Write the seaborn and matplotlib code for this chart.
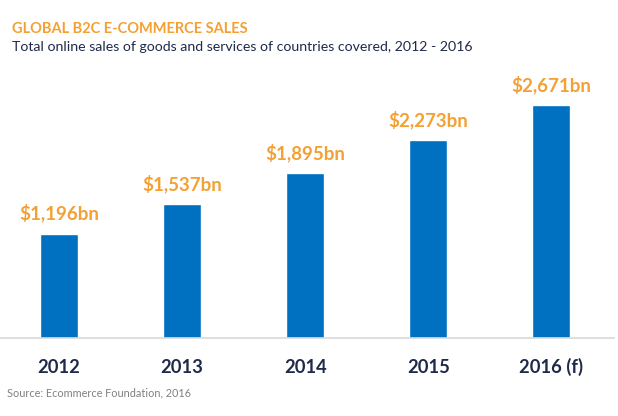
import matplotlib
matplotlib.use("Agg")
import matplotlib.pyplot as plt
import seaborn as sns
import pandas as pd

# data
years = ["2012", "2013", "2014", "2015", "2016 (f)"]
sales_bn = [1196, 1537, 1895, 2273, 2671]
value_labels = ["$1,196bn", "$1,537bn", "$1,895bn", "$2,273bn", "$2,671bn"]

bar_blue = "#0070C0"
orange = "#F4A032"
navy = "#1F2A4A"

sns.set_theme(style="white")
plt.rcParams["font.family"] = ["Lato", "DejaVu Sans"]

df = pd.DataFrame({"year": years, "sales": sales_bn})

fig = plt.figure(figsize=(6.18, 4.16), dpi=100)
# axes: x from 0 to 614 px, baseline at 338 px from top
ax = fig.add_axes([0, (416 - 338) / 416, 614 / 618, (338 - 60) / 416])

sns.barplot(data=df, x="year", y="sales", color=bar_blue, width=0.31,
            saturation=1, ax=ax)

ax.set_xlim(-0.48, 4.51)
ax.set_ylim(0, 278 * 11.47)

for i, (v, lab) in enumerate(zip(sales_bn, value_labels)):
    ax.annotate(lab, (i, v), xytext=(0, 14), textcoords="offset pixels",
                ha="center", va="baseline", color=orange,
                fontsize=13.5, fontweight="bold")

for s in ["top", "right", "left"]:
    ax.spines[s].set_visible(False)
ax.spines["bottom"].set_color("#D9D9D9")
ax.spines["bottom"].set_linewidth(1.2)
ax.set_yticks([])
ax.set_xlabel("")
ax.set_ylabel("")
# baseline of year labels ~35 px under the axis line
ax.tick_params(axis="x", length=0, pad=25)
for t in ax.get_xticklabels():
    t.set_fontsize(13.2)
    t.set_fontweight("bold")
    t.set_color(navy)
    t.set_va("baseline")

fig.text(12 / 618, 1 - 33 / 416, "GLOBAL B2C E-COMMERCE SALES", color=orange,
         fontsize=10.5, fontweight="bold", va="baseline")
fig.text(12 / 618, 1 - 51 / 416,
         "Total online sales of goods and services of countries covered, 2012 - 2016",
         color=navy, fontsize=10.2, va="baseline")
fig.text(7 / 618, 1 - 396 / 416, "Source: Ecommerce Foundation, 2016",
         color="#808080", fontsize=7.8, va="baseline")

fig.savefig("out.png", dpi=100)
